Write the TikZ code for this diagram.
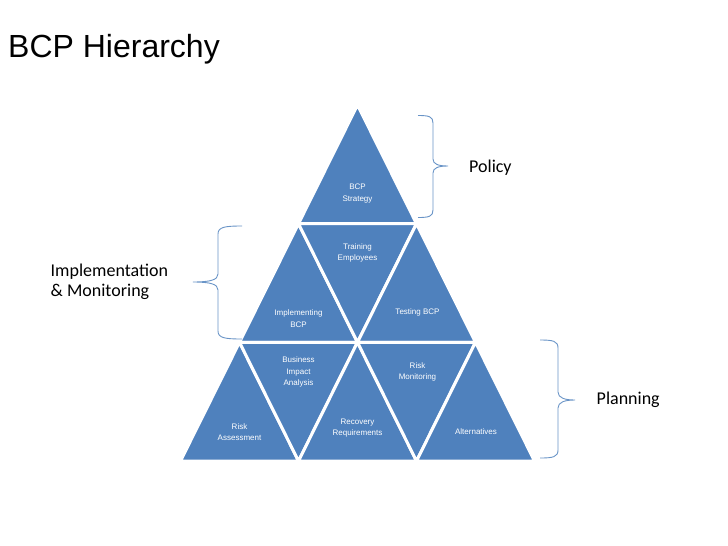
\documentclass[tikz,border=0pt]{standalone}
\usepackage{fontspec}
\setmainfont{Liberation Sans}
\newfontfamily\calibri{Carlito}
\definecolor{triblue}{HTML}{4F81BD}
\begin{document}
\begin{tikzpicture}[x=1pt,y=-1pt,
  tribox/.style={fill=triblue,draw=white,line width=3pt,line join=miter},
  lbl/.style={text=white,font=\fontsize{8}{11.5}\selectfont,align=center,inner sep=0pt},
  side/.style={font=\calibri\fontsize{18}{20}\selectfont,align=left,inner sep=0pt,anchor=base west},
  bracepath/.style={draw=triblue!85,line width=0.9pt}]
\useasboundingbox[fill=white] (0,0) rectangle (728,546);
% grid points
\coordinate (P00) at (357.5,105);
\coordinate (P10) at (298.5,223.7);
\coordinate (P11) at (416.5,223.7);
\coordinate (P20) at (239.5,342.3);
\coordinate (P21) at (357.5,342.3);
\coordinate (P22) at (475.5,342.3);
\coordinate (P30) at (180.5,461);
\coordinate (P31) at (298.5,461);
\coordinate (P32) at (416.5,461);
\coordinate (P33) at (534.5,461);
% triangles
\draw[tribox] (P00) -- (P10) -- (P11) -- cycle;
\draw[tribox] (P10) -- (P20) -- (P21) -- cycle;
\draw[tribox] (P10) -- (P11) -- (P21) -- cycle;
\draw[tribox] (P11) -- (P21) -- (P22) -- cycle;
\draw[tribox] (P20) -- (P30) -- (P31) -- cycle;
\draw[tribox] (P20) -- (P21) -- (P31) -- cycle;
\draw[tribox] (P21) -- (P31) -- (P32) -- cycle;
\draw[tribox] (P21) -- (P22) -- (P32) -- cycle;
\draw[tribox] (P22) -- (P32) -- (P33) -- cycle;
% labels
\node[lbl] (strategy) at (357.5,193.5) {BCP\\Strategy};
\node[lbl] (training) at (357.5,253) {Training\\Employees};
\node[lbl] (implementing) at (298.5,318.5) {Implementing\\BCP};
\node[lbl] (testing) at (417.5,312.5) {Testing BCP};
\node[lbl] (bia) at (298.5,372) {Business\\Impact\\Analysis};
\node[lbl] (riskassess) at (239.5,432) {Risk\\Assessment};
\node[lbl] (recovery) at (357.5,428) {Recovery\\Requirements};
\node[lbl] (riskmon) at (417.5,372) {Risk\\Monitoring};
\node[lbl] (alternatives) at (476,431.5) {Alternatives};
% title
\node[anchor=base west,inner sep=0pt,font=\fontsize{32}{36}\selectfont] (title) at (8,57) {BCP Hierarchy};
% side labels
\node[side] (policy) at (469,172) {Policy};
\node[side] (impl) at (50.5,296.7) {Implementation\\\& Monitoring};
\node[side] (planning) at (596.5,404) {Planning};
% braces
\draw[bracepath] (418,115.5) .. controls (429,115.5) and (433,116.5) .. (433,123) -- (433,159) .. controls (433,164) and (438,166) .. (448,166)
  .. controls (438,166) and (433,168) .. (433,173) -- (433,210) .. controls (433,216.5) and (429,217.5) .. (418,217.5);
\draw[bracepath] (242,226) .. controls (225,226) and (218,227) .. (218,234) -- (218,274) .. controls (218,280) and (210,282) .. (193,282)
  .. controls (210,282) and (218,284) .. (218,290) -- (218,331) .. controls (218,338) and (225,339) .. (242,339);
\draw[bracepath] (540,340) .. controls (553,340) and (558,341) .. (558,348) -- (558,392) .. controls (558,398) and (565,400) .. (575,400)
  .. controls (565,400) and (558,402) .. (558,408) -- (558,450) .. controls (558,457) and (553,458) .. (540,458);
\end{tikzpicture}
\end{document}
